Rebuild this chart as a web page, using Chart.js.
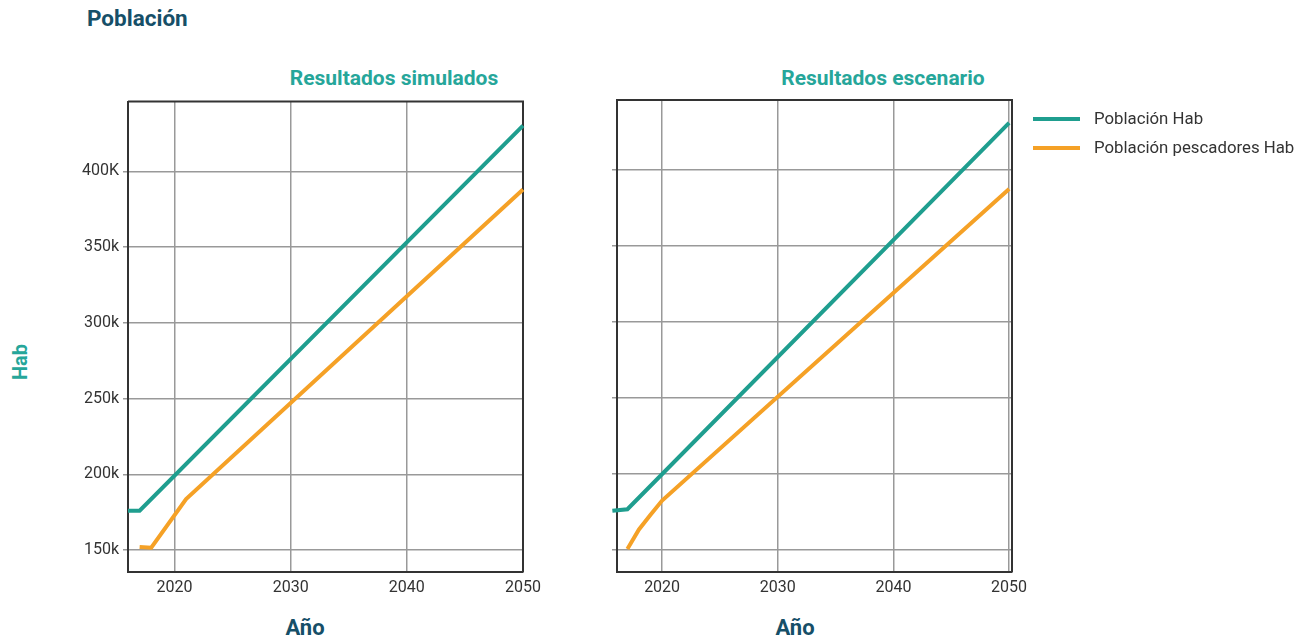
<!DOCTYPE html>
<html>
<head>
<meta charset="utf-8">
<script src="https://cdn.jsdelivr.net/npm/chart.js@4/dist/chart.umd.min.js"></script>
<style>
  body { margin: 0; background: #fff; font-family: Roboto, sans-serif; }
  #page { position: relative; width: 1303px; height: 640px; overflow: hidden; }
  .txt { position: absolute; white-space: nowrap; line-height: 1; }
  .title { left: 87px; top: 7px; font-size: 22.5px; font-weight: 700; color: #164f68; }
  .sub { top: 68px; font-size: 21px; font-weight: 700; color: #26a69a; transform: translateX(-50%); }
  .xt { top: 617px; font-size: 22px; font-weight: 700; color: #164f68; transform: translateX(-50%); }
  .yt { left: 20px; top: 362px; font-size: 20px; font-weight: 700; color: #26a69a; transform: translate(-50%, -50%) rotate(-90deg); }
  canvas { position: absolute; }
  #legend { position: absolute; left: 1033px; top: 108px; font-size: 16.8px; color: #333; }
  .item { position: relative; height: 29px; }
  .item span.sw { position: absolute; left: 0; top: 9px; width: 47px; height: 4px; }
  .item span.lb { position: absolute; left: 61px; top: 2px; line-height: 1; white-space: nowrap; }
</style>
</head>
<body>
<div id="page">
  <div class="txt title">Población</div>
  <div class="txt sub" style="left:394px">Resultados simulados</div>
  <div class="txt sub" style="left:883px">Resultados escenario</div>
  <div class="txt xt" style="left:305px">Año</div>
  <div class="txt xt" style="left:795px">Año</div>
  <div class="txt yt">Hab</div>
  <canvas id="left" width="508" height="514" style="left:40px;top:88px"></canvas>
  <canvas id="right" width="477" height="514" style="left:560px;top:88px"></canvas>
  <div id="legend"></div>
</div>
<script>
// series names and colours
const seriesNames = ['Población Hab', 'Población pescadores Hab']
const seriesColors = ['#1f9e8f', '#f5a126']

// Resultados simulados (vertices)
const simYears = [2016, 2017, 2050]
const simHab = [176000, 176000, 430200]
const simPescYears = [2017, 2018, 2021, 2050]
const simPesc = [152000, 151500, 183700, 388000]

// Resultados escenario
const escYears = [2015.7, 2017, 2050]
const escHab = [175800, 176800, 431000]
const escPescYears = [2017, 2018, 2019, 2020, 2050]
const escPesc = [150600, 163500, 173200, 182500, 387500]

// ticks
const xTicks = [2020, 2030, 2040, 2050]
const yTicks = [150000, 200000, 250000, 300000, 350000, 400000]
const yTickLabels = ['150k', '200k', '250k', '300k', '350k', '400K']

function points(xs, ys) {
  return xs.map((x, i) => ({ x: x, y: ys[i] }))
}

// top and right edges of the plot frame
const framePlugin = {
  id: 'frame',
  beforeDatasetsDraw(chart) {
    const a = chart.chartArea
    const ctx = chart.ctx
    ctx.save()
    ctx.strokeStyle = '#333'
    ctx.lineWidth = 2
    ctx.beginPath()
    ctx.moveTo(a.left, a.top)
    ctx.lineTo(a.right, a.top)
    ctx.lineTo(a.right, a.bottom)
    ctx.stroke()
    ctx.restore()
  }
}

function makeChart(id, habPts, pescPts, xMin, xMax, yWidth, showLabels) {
  const font = { family: 'Roboto', size: 16 }
  return new Chart(document.getElementById(id), {
    type: 'line',
    data: {
      datasets: [
        { label: seriesNames[0], data: habPts, borderColor: seriesColors[0], backgroundColor: seriesColors[0], borderWidth: 4, pointRadius: 0, clip: false },
        { label: seriesNames[1], data: pescPts, borderColor: seriesColors[1], backgroundColor: seriesColors[1], borderWidth: 4, pointRadius: 0, clip: false }
      ]
    },
    options: {
      responsive: false,
      animation: false,
      layout: { padding: { top: 12, right: 25, left: 0, bottom: 0 } },
      plugins: { legend: { display: false }, tooltip: { enabled: false } },
      scales: {
        x: {
          type: 'linear',
          min: xMin,
          max: xMax,
          afterBuildTicks: s => { s.ticks = xTicks.map(v => ({ value: v })) },
          afterFit: s => { s.height = 30 },
          ticks: { color: '#333', font: font, padding: 6, maxRotation: 0, callback: v => String(v) },
          grid: { color: '#999', lineWidth: 1.5, drawTicks: false },
          border: { color: '#333', width: 2 }
        },
        y: {
          min: 135500,
          max: 446000,
          afterBuildTicks: s => { s.ticks = yTicks.map(v => ({ value: v })) },
          afterFit: s => { s.width = yWidth },
          ticks: {
            display: showLabels,
            color: '#333',
            font: font,
            padding: 4,
            callback: v => yTickLabels[yTicks.indexOf(v)]
          },
          grid: { color: '#999', lineWidth: 1.5, tickLength: 5 },
          border: { color: '#333', width: 2 }
        }
      }
    },
    plugins: [framePlugin]
  })
}

makeChart('left', points(simYears, simHab), points(simPescYears, simPesc), 2016, 2050, 88, true)
makeChart('right', points(escYears, escHab), points(escPescYears, escPesc), 2016.1, 2050.25, 57, false)

// legend
const legend = document.getElementById('legend')
seriesNames.forEach((name, i) => {
  const item = document.createElement('div')
  item.className = 'item'
  item.innerHTML = '<span class="sw" style="background:' + seriesColors[i] + '"></span><span class="lb">' + name + '</span>'
  legend.appendChild(item)
})
</script>
</body>
</html>
